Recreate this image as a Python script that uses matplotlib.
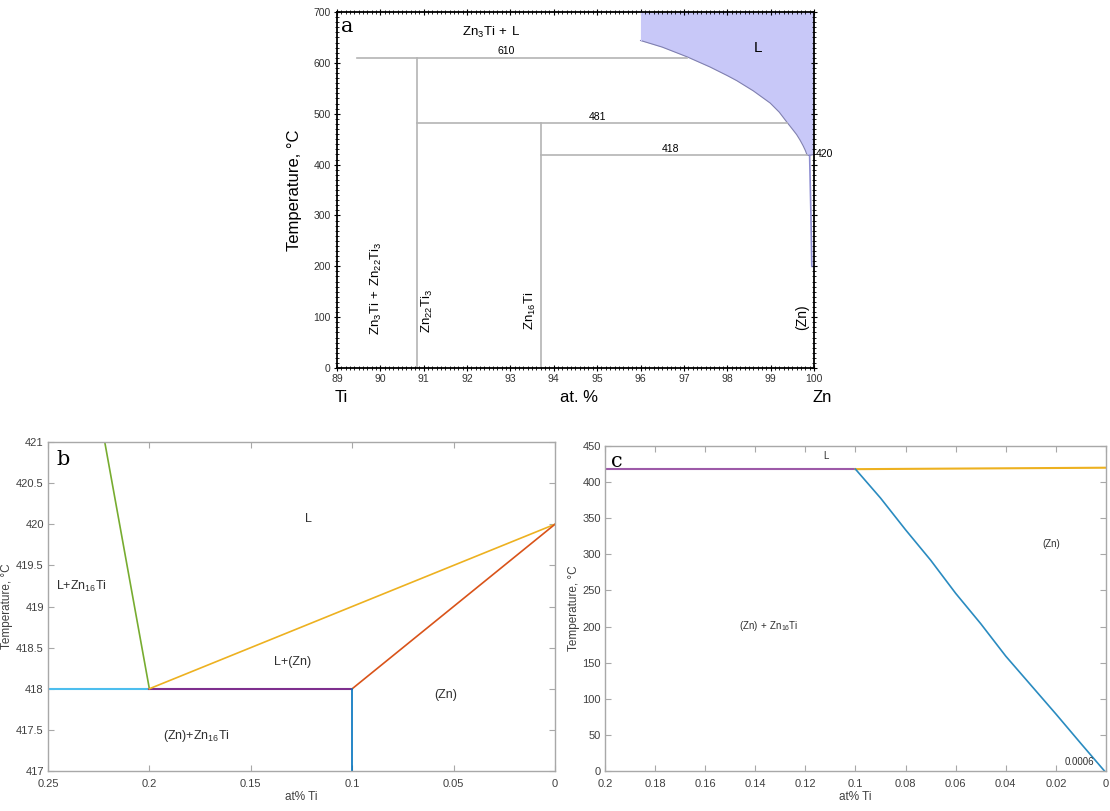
import matplotlib.pyplot as plt
import numpy as np
from matplotlib.ticker import MultipleLocator

plt.rcParams['font.family'] = ['Liberation Sans', 'DejaVu Sans']

# (a) diagramme Zn-Ti, côté riche en zinc
liq_x = [96.0, 96.5, 97.07, 97.6, 98.0, 98.22, 98.6, 98.99, 99.2, 99.37,
         99.5, 99.6, 99.68, 99.75, 99.8, 99.84, 99.88]
liq_t = [644, 631, 612, 592, 575, 565, 545, 521, 503, 484,
         470, 459, 448, 437, 428, 419, 418]
palier_t = [610, 481, 418]
palier_x0 = [89.45, 90.85, 93.7]
palier_x1 = [97.07, 99.37, 99.85]
compose_x = [90.85, 93.7]
compose_t = [610, 481]
solvus_x = [99.9, 99.93, 99.95]
solvus_t = [418, 300, 200]

# (b) zoom autour de l'eutectique
b_vert_x = [0.222, 0.2]
b_vert_t = [421, 418]
b_cyan_x = [0.25, 0.2]
b_cyan_t = [418, 418]
b_viol_x = [0.2, 0.1]
b_viol_t = [418, 418]
b_jaune_x = [0.2, 0.0]
b_jaune_t = [418, 420]
b_orange_x = [0.1, 0.0]
b_orange_t = [418, 420]
b_bleu_x = [0.1, 0.1]
b_bleu_t = [418, 417]

# (c) solvus de (Zn)
c_viol_x = [0.2, 0.1]
c_viol_t = [418, 418]
c_jaune_x = [0.1, 0.0]
c_jaune_t = [418, 420]
c_bleu_x = [0.1, 0.09, 0.08, 0.07, 0.06, 0.05, 0.04, 0.03, 0.02, 0.01, 0.0006]
c_bleu_t = [418, 378, 334, 292, 246, 204, 159, 119, 79, 38, 0]

fig = plt.figure(figsize=(11.1, 8.11), dpi=100)

gris = '#b4b4b4'
ax = fig.add_axes([0.3036, 0.5462, 0.4297, 0.439])
ax.fill_between(liq_x + [100], liq_t + [420], 700, color='#c8c8f8', lw=0)
ax.plot(liq_x + [100], liq_t + [420], color='#8080b0', lw=0.8)
ax.plot([96, 96], [644, 700], color='#c8c8f8', lw=0.8)
for t, x0, x1 in zip(palier_t, palier_x0, palier_x1):
    ax.plot([x0, x1], [t, t], color=gris, lw=1.2)
for x, t in zip(compose_x, compose_t):
    ax.plot([x, x], [0, t], color=gris, lw=1.2)
ax.plot(solvus_x, solvus_t, color='#8c8cd0', lw=1.2)
ax.set_xlim(89, 100)
ax.set_ylim(0, 700)
ax.xaxis.set_major_locator(MultipleLocator(1))
ax.xaxis.set_minor_locator(MultipleLocator(0.1))
ax.yaxis.set_major_locator(MultipleLocator(100))
ax.yaxis.set_minor_locator(MultipleLocator(10))
ax.tick_params(which='both', direction='inout', top=True, right=True,
               labelsize=7.5, labelcolor='#333333', pad=2)
ax.tick_params(which='major', length=5)
ax.tick_params(which='minor', length=2.5)
for s in ax.spines.values():
    s.set_linewidth(1.3)
ax.set_ylabel('Temperature, °C', fontsize=12, labelpad=8)
ax.text(89.1, 690, 'a', family='DejaVu Serif', fontsize=15, va='top')
ax.text(92.55, 660, r'$\mathregular{Zn_3Ti\,+\,L}$', fontsize=9.5, ha='center', va='center')
ax.text(98.7, 630, 'L', fontsize=11, ha='center', va='center')
for t, x in zip(palier_t, [92.9, 95.0, 96.7]):
    ax.text(x, t + 3, str(t), fontsize=7.5, ha='center', va='bottom')
ax.text(100.05, 420, '420', fontsize=7.5, ha='left', va='center', clip_on=False)
ax.text(89.92, 156, r'$\mathregular{Zn_3Ti\,+\,Zn_{22}Ti_3}$', rotation=90, fontsize=9.5,
        ha='center', va='center')
ax.text(91.08, 112, r'$\mathregular{Zn_{22}Ti_3}$', rotation=90, fontsize=9.5, ha='center', va='center')
ax.text(93.47, 112, r'$\mathregular{Zn_{16}Ti}$', rotation=90, fontsize=9.5, ha='center', va='center')
ax.text(99.73, 100, '(Zn)', rotation=90, fontsize=10, ha='center', va='center')
ax.text(89.1, -57, 'Ti', fontsize=12, ha='center', va='center', clip_on=False)
ax.text(94.58, -57, 'at. %', fontsize=12, ha='center', va='center', clip_on=False)
ax.text(100.2, -57, 'Zn', fontsize=12, ha='center', va='center', clip_on=False)


def cadre_matlab(a):
    for s in a.spines.values():
        s.set_color('#a8a8a8')
        s.set_linewidth(1.0)
    a.tick_params(direction='in', top=True, right=True, length=4, color='#a8a8a8',
                  labelsize=8, labelcolor='#404040', pad=3)
    a.tick_params(axis='x', pad=6)


# (b)
bx = fig.add_axes([0.0432, 0.0493, 0.4568, 0.4057])
bx.plot(b_vert_x, b_vert_t, color='#77ac30', lw=1.2)
bx.plot(b_cyan_x, b_cyan_t, color='#4dbeee', lw=1.5)
bx.plot(b_viol_x, b_viol_t, color='#7e2f8e', lw=1.5)
bx.plot(b_jaune_x, b_jaune_t, color='#edb120', lw=1.2)
bx.plot(b_orange_x, b_orange_t, color='#d95319', lw=1.2)
bx.plot(b_bleu_x, b_bleu_t, color='#0072bd', lw=1.2)
bx.set_xlim(0.25, 0)
bx.set_ylim(417, 421)
bx.set_xticks([0.25, 0.2, 0.15, 0.1, 0.05, 0])
bx.set_xticklabels(['0.25', '0.2', '0.15', '0.1', '0.05', '0'])
bx.set_yticks([417, 417.5, 418, 418.5, 419, 419.5, 420, 420.5, 421])
bx.set_yticklabels(['417', '417.5', '418', '418.5', '419', '419.5', '420', '420.5', '421'])
cadre_matlab(bx)
bx.set_xlabel('at% Ti', fontsize=8.5, color='#404040', labelpad=1)
bx.set_ylabel('Temperature, °C', fontsize=8.5, color='#404040')
bx.yaxis.set_label_coords(-0.068, 0.5)
bx.text(0.246, 420.9, 'b', family='DejaVu Serif', fontsize=15, va='top')
kw = dict(fontsize=9, color='#303030', ha='center', va='center')
bx.text(0.1217, 420.06, 'L', **kw)
bx.text(0.2333, 419.24, r'$\mathregular{L{+}Zn_{16}Ti}$', **kw)
bx.text(0.1294, 418.32, 'L+(Zn)', **kw)
bx.text(0.0539, 417.93, '(Zn)', **kw)
bx.text(0.177, 417.43, r'$\mathregular{(Zn){+}Zn_{16}Ti}$', **kw)

# (c)
cx = fig.add_axes([0.545, 0.0493, 0.4514, 0.4007])
cx.plot(c_viol_x, c_viol_t, color='#9d5aa8', lw=1.5)
cx.plot(c_jaune_x, c_jaune_t, color='#edb120', lw=1.5)
cx.plot(c_bleu_x, c_bleu_t, color='#2a8bc0', lw=1.2)
cx.set_xlim(0.2, 0)
cx.set_ylim(0, 450)
cx.set_xticks(np.arange(0, 0.21, 0.02))
cx.set_xticklabels(['0', '0.02', '0.04', '0.06', '0.08', '0.1', '0.12', '0.14',
                    '0.16', '0.18', '0.2'])
cx.yaxis.set_major_locator(MultipleLocator(50))
cadre_matlab(cx)
cx.set_xlabel('at% Ti', fontsize=8.5, color='#404040', labelpad=1)
cx.set_ylabel('Temperature, °C', fontsize=8.5, color='#404040', labelpad=2)
cx.text(0.1975, 442, 'c', family='DejaVu Serif', fontsize=15, va='top')
kw = dict(fontsize=7, color='#303030', ha='center', va='center')
cx.text(0.1116, 436, 'L', **kw)
cx.text(0.022, 314, '(Zn)', **kw)
cx.text(0.1345, 201, r'$\mathregular{(Zn)\,+\,Zn_{16}Ti}$', **kw)
cx.text(0.0105, 13, '0.0006', **kw)

fig.savefig('out.png', dpi=100)
